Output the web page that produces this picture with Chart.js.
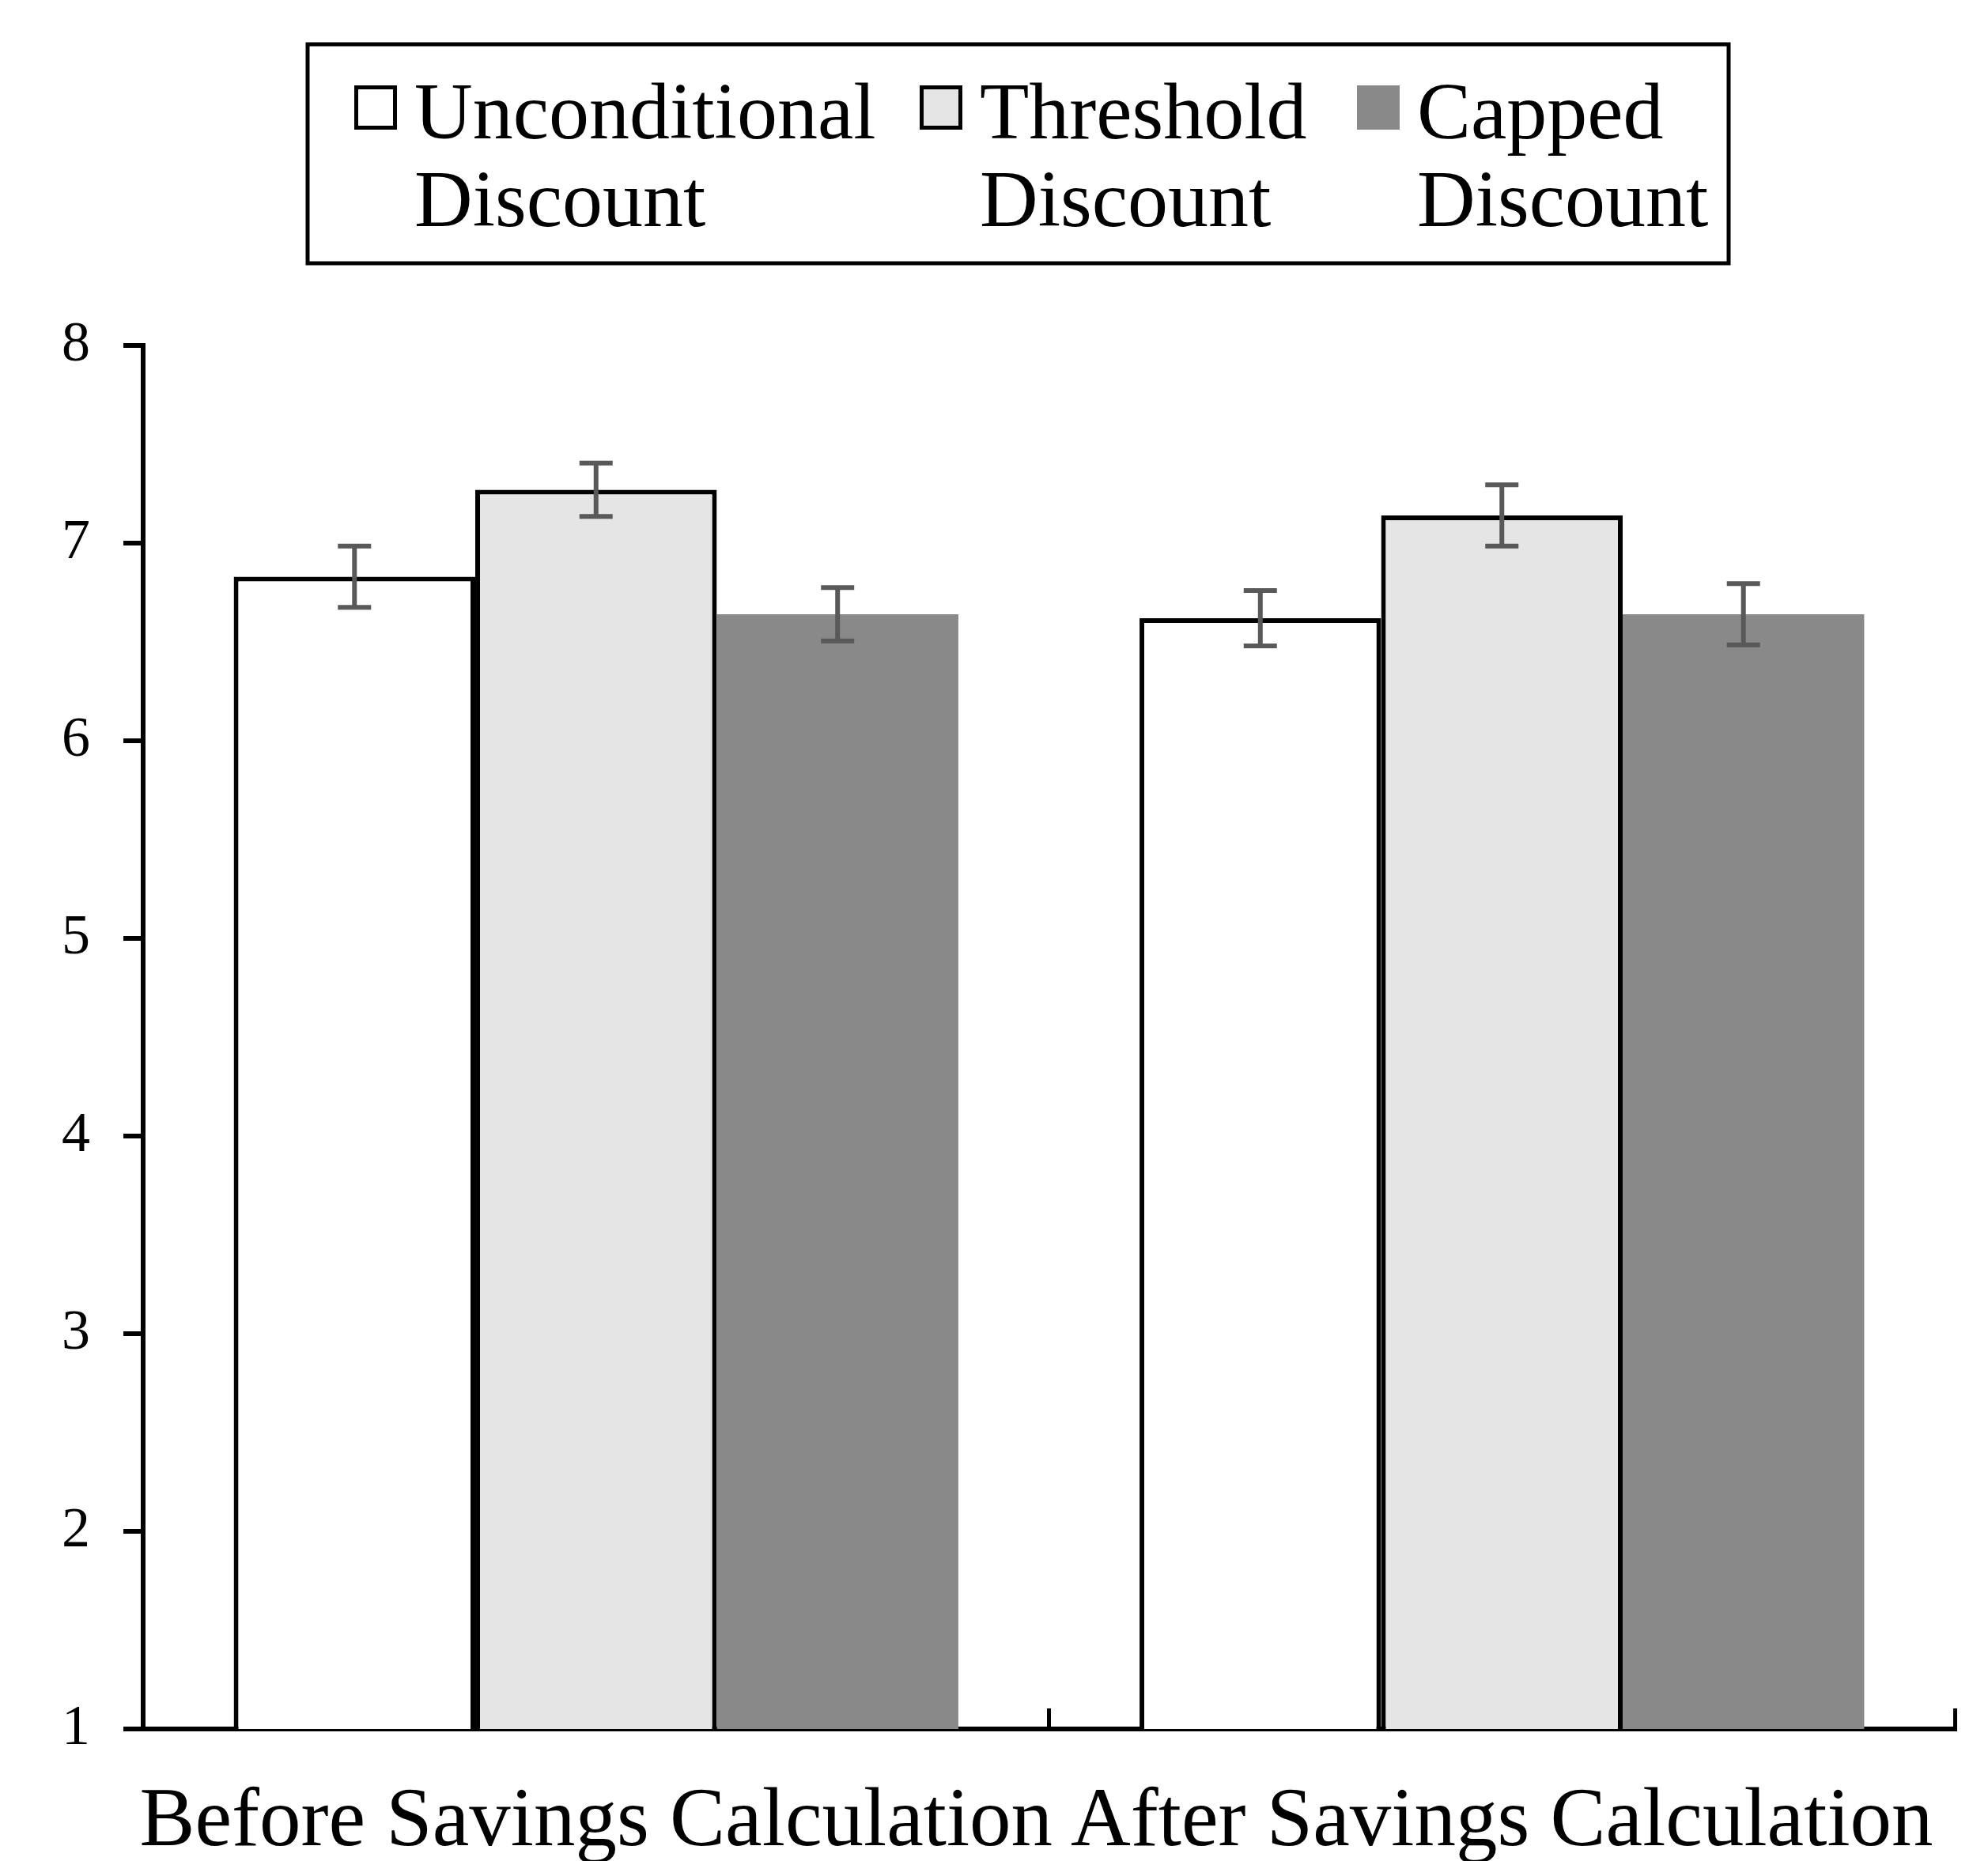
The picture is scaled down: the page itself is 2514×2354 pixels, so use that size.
<!DOCTYPE html>
<html>
<head>
<meta charset="utf-8">
<script src="https://cdn.jsdelivr.net/npm/chart.js@4.4.1/dist/chart.umd.min.js"></script>
<style>
html, body { margin: 0; padding: 0; background: #fff; }
#wrap { width: 2514px; height: 2354px; }
</style>
</head>
<body>
<div id="wrap"><canvas id="chart" width="2514" height="2354"></canvas></div>
<script>
// data
const categories = ['Before Savings Calculation', 'After Savings Calculation'];
const seriesNames = ['Unconditional Discount', 'Threshold Discount', 'Capped Discount'];
const unconditional = [6.83, 6.62];
const threshold = [7.27, 7.14];
const capped = [6.64, 6.64];
const unconditionalErr = [0.155, 0.14];
const thresholdErr = [0.135, 0.155];
const cappedErr = [0.135, 0.155];
const yTicks = [1, 2, 3, 4, 5, 6, 7, 8];

const serif = "'Liberation Serif', 'Times New Roman', serif";
Chart.defaults.font.family = serif;
Chart.defaults.color = '#000';

// error bars (drawn on top of the bars)
const errorBars = {
  id: 'errorBars',
  afterDatasetsDraw(chart) {
    const ctx = chart.ctx;
    const y = chart.scales.y;
    ctx.save();
    ctx.strokeStyle = '#595959';
    ctx.lineWidth = 6;
    chart.data.datasets.forEach((ds, i) => {
      const meta = chart.getDatasetMeta(i);
      meta.data.forEach((bar, j) => {
        const v = ds.data[j], e = ds.errors[j];
        const top = y.getPixelForValue(v + e);
        const bot = y.getPixelForValue(v - e);
        ctx.beginPath();
        ctx.moveTo(bar.x, top); ctx.lineTo(bar.x, bot);
        ctx.moveTo(bar.x - 21, top); ctx.lineTo(bar.x + 21, top);
        ctx.moveTo(bar.x - 21, bot); ctx.lineTo(bar.x + 21, bot);
        ctx.stroke();
      });
    });
    ctx.restore();
  }
};

// boxed legend with two-line labels
const boxLegend = {
  id: 'boxLegend',
  afterDraw(chart) {
    const ctx = chart.ctx;
    ctx.save();
    ctx.strokeStyle = '#000';
    ctx.lineWidth = 5;
    ctx.strokeRect(389, 56, 1797, 277);
    ctx.font = '102px ' + serif;
    ctx.textBaseline = 'alphabetic';
    const itemX = [448, 1163, 1716];
    chart.data.datasets.forEach((ds, i) => {
      const x = itemX[i];
      ctx.fillStyle = ds.backgroundColor;
      ctx.fillRect(x, 108, 54, 56);
      if (ds.borderWidth) {
        ctx.lineWidth = 5;
        ctx.strokeRect(x + 2.5, 110.5, 49, 51);
      }
      ctx.fillStyle = '#000';
      ds.label.split(' ').forEach((line, k) => ctx.fillText(line, x + 76, 175 + k * 111));
    });
    ctx.restore();
  }
};

new Chart(document.getElementById('chart'), {
  type: 'bar',
  data: {
    labels: categories,
    datasets: [
      { label: seriesNames[0], data: unconditional, errors: unconditionalErr,
        backgroundColor: '#ffffff', borderColor: '#000', borderWidth: 6 },
      { label: seriesNames[1], data: threshold, errors: thresholdErr,
        backgroundColor: '#e5e5e5', borderColor: '#000', borderWidth: 6 },
      { label: seriesNames[2], data: capped, errors: cappedErr,
        backgroundColor: '#898989', borderWidth: 0 }
    ]
  },
  options: {
    responsive: false,
    animation: false,
    devicePixelRatio: 1,
    categoryPercentage: 0.8,
    barPercentage: 1.0,
    layout: { padding: { top: 437, right: 42, left: 0, bottom: 0 } },
    plugins: { legend: { display: false }, tooltip: { enabled: false } },
    scales: {
      x: {
        grid: { drawOnChartArea: false, color: '#000', lineWidth: 5, tickLength: -26 },
        border: { color: '#000', width: 6 },
        ticks: { font: { size: 105 }, color: '#000', padding: 82, maxRotation: 0, autoSkip: false },
        afterFit(scale) {
          scale.height = 167;
          scale.paddingLeft = 0;
          scale.paddingRight = 0;
        }
      },
      y: {
        min: yTicks[0],
        max: yTicks[yTicks.length - 1],
        ticks: { stepSize: 1, font: { size: 72 }, color: '#000', padding: 42 },
        grid: { drawOnChartArea: false, color: '#000', lineWidth: 6, tickLength: 25 },
        border: { color: '#000', width: 6 },
        afterFit(scale) { scale.width = 181; }
      }
    }
  },
  plugins: [errorBars, boxLegend]
});
</script>
</body>
</html>
